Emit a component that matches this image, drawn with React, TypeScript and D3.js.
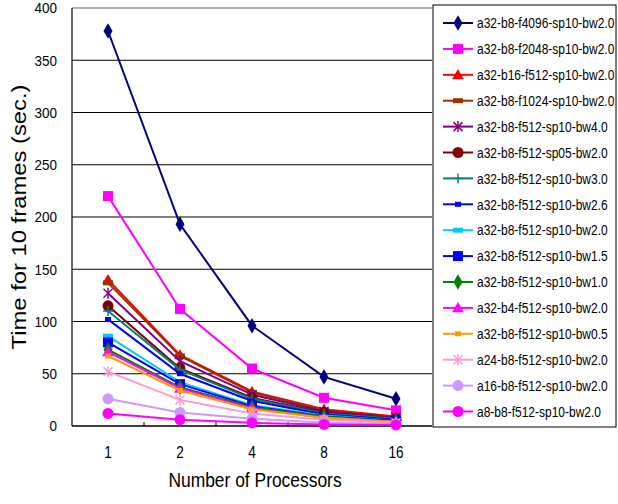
import React from 'react';
import * as d3 from 'd3';

// processors on the x axis
const processors = ['1', '2', '4', '8', '16'];
const yTicks = [0, 50, 100, 150, 200, 250, 300, 350, 400];

const seriesNames = [
  'a32-b8-f4096-sp10-bw2.0',
  'a32-b8-f2048-sp10-bw2.0',
  'a32-b16-f512-sp10-bw2.0',
  'a32-b8-f1024-sp10-bw2.0',
  'a32-b8-f512-sp10-bw4.0',
  'a32-b8-f512-sp05-bw2.0',
  'a32-b8-f512-sp10-bw3.0',
  'a32-b8-f512-sp10-bw2.6',
  'a32-b8-f512-sp10-bw2.0',
  'a32-b8-f512-sp10-bw1.5',
  'a32-b8-f512-sp10-bw1.0',
  'a32-b4-f512-sp10-bw2.0',
  'a32-b8-f512-sp10-bw0.5',
  'a24-b8-f512-sp10-bw2.0',
  'a16-b8-f512-sp10-bw2.0',
  'a8-b8-f512-sp10-bw2.0',
];

const seriesValues = [
  [378, 193, 96, 47, 26],
  [220, 112, 55, 27, 15],
  [140, 68, 33, 16, 9],
  [137, 67, 32, 15, 8],
  [127, 62, 30, 14, 8],
  [115, 55, 27, 13, 7],
  [110, 54, 26, 12, 7],
  [102, 50, 24, 11, 6],
  [86, 42, 20, 10, 5],
  [80, 40, 19, 9, 5],
  [73, 37, 18, 9, 4],
  [71, 36, 17, 8, 4],
  [67, 34, 16, 8, 4],
  [52, 25, 12, 6, 3],
  [26, 13, 7, 3, 2],
  [12, 6, 3, 1.5, 1],
];

const seriesColors = [
  '#000080', '#FF00FF', '#FF0000', '#993300', '#800080', '#800000', '#008080', '#0000FF',
  '#00CCFF', '#0000FF', '#008000', '#FF00FF', '#FF9900', '#FF99CC', '#CC99FF', '#FF00FF',
];

const seriesMarkers = [
  'diamond', 'square', 'triangle', 'dash', 'star', 'circle', 'plus', 'smallsq',
  'dash', 'square', 'diamond', 'triangle', 'smallsq', 'star', 'circle', 'circle',
];

const FONT = '"Liberation Sans", Arial, sans-serif';

const margin = { left: 72, top: 8, right: 432, bottom: 426 };

const Marker = ({ kind, x, y, color }: { kind: string; x: number; y: number; color: string }) => {
  switch (kind) {
    case 'diamond':
      return <path d={d3.symbol(d3.symbolDiamond, 70)()!} transform={`translate(${x},${y})`} fill={color} />;
    case 'triangle':
      return <path d={d3.symbol(d3.symbolTriangle, 60)()!} transform={`translate(${x},${y + 1})`} fill={color} />;
    case 'square':
      return <rect x={x - 5} y={y - 5} width={10} height={10} fill={color} />;
    case 'dash':
      return <rect x={x - 5} y={y - 2.5} width={10} height={5} fill={color} />;
    case 'smallsq':
      return <rect x={x - 3} y={y - 2.5} width={6} height={5} fill={color} />;
    case 'circle':
      return <circle cx={x} cy={y} r={5.5} fill={color} />;
    case 'plus':
      return (
        <g stroke={color} strokeWidth={1.5}>
          <line x1={x - 5} x2={x + 5} y1={y} y2={y} />
          <line x1={x} x2={x} y1={y - 5} y2={y + 5} />
        </g>
      );
    case 'star':
      return (
        <g stroke={color} strokeWidth={1.5}>
          <line x1={x - 4.5} x2={x + 4.5} y1={y - 4.5} y2={y + 4.5} />
          <line x1={x - 4.5} x2={x + 4.5} y1={y + 4.5} y2={y - 4.5} />
          <line x1={x} x2={x} y1={y - 5.5} y2={y + 5.5} />
        </g>
      );
    default:
      return null;
  }
};

// narrow-looking text: horizontally squeezed around its anchor
const Narrow = ({ x, y, sx, size, anchor, children }: any) => (
  <text transform={`translate(${x},${y}) scale(${sx},1)`} dy="0.35em" textAnchor={anchor} fontSize={size}>
    {children}
  </text>
);

const App = () => {
  const x = d3.scaleBand<string>().domain(processors).range([margin.left, margin.right]);
  const y = d3.scaleLinear().domain([0, 400]).range([margin.bottom, margin.top]);
  const cx = (p: string) => (x(p) as number) + x.bandwidth() / 2;
  const line = d3.line<number>().x((_, i) => cx(processors[i])).y((v) => y(v));

  const legendX = 433;
  const legendTop = 23;
  const legendStep = 25.9;

  return (
    <svg width={618} height={504} style={{ position: 'absolute', left: 0, top: 0, background: '#fff' }} fontFamily={FONT}>
      {/* gridlines */}
      {yTicks.map((t) => (
        <line key={t} x1={margin.left} x2={margin.right} y1={y(t)} y2={y(t)}
          stroke={t === 400 ? '#999' : '#000'} strokeWidth={t === 400 ? 1.5 : 1} />
      ))}
      {/* axes */}
      <line x1={margin.left} x2={margin.left} y1={margin.top} y2={margin.bottom} stroke="#000" strokeWidth={1.2} />
      <line x1={margin.left} x2={margin.right} y1={margin.bottom} y2={margin.bottom} stroke="#000" strokeWidth={1.2} />
      {processors.slice(1).map((p) => (
        <line key={p} x1={x(p)} x2={x(p)} y1={margin.bottom} y2={margin.bottom - 4} stroke="#000" />
      ))}
      {yTicks.map((t) => (
        <Narrow key={t} x={57} y={y(t)} sx={0.9} size={15} anchor="end">{t}</Narrow>
      ))}
      {processors.map((p) => (
        <Narrow key={p} x={cx(p)} y={452} sx={0.85} size={16} anchor="middle">{p}</Narrow>
      ))}
      <Narrow x={255} y={480} sx={0.83} size={21} anchor="middle">Number of Processors</Narrow>
      <text transform={`translate(19,217) rotate(-90)`} dy="0.35em" textAnchor="middle" fontSize={21}
        textLength={265} lengthAdjust="spacingAndGlyphs">Time for 10 frames (sec.)</text>

      {/* series */}
      {seriesValues.map((vals, si) => (
        <g key={si}>
          <path d={line(vals)!} fill="none" stroke={seriesColors[si]} strokeWidth={2} />
          {vals.map((v, i) => (
            <Marker key={i} kind={seriesMarkers[si]} x={cx(processors[i])} y={y(v)} color={seriesColors[si]} />
          ))}
        </g>
      ))}

      {/* legend */}
      <rect x={legendX} y={5} width={183} height={422} fill="#fff" stroke="#000" strokeWidth={1} />
      {seriesNames.map((name, i) => {
        const ly = legendTop + i * legendStep;
        return (
          <g key={name}>
            <line x1={443} x2={473} y1={ly} y2={ly} stroke={seriesColors[i]} strokeWidth={2} />
            <Marker kind={seriesMarkers[i]} x={458} y={ly} color={seriesColors[i]} />
            <Narrow x={477} y={ly} sx={0.8} size={15} anchor="start">{name}</Narrow>
          </g>
        );
      })}
    </svg>
  );
};

export default App;
